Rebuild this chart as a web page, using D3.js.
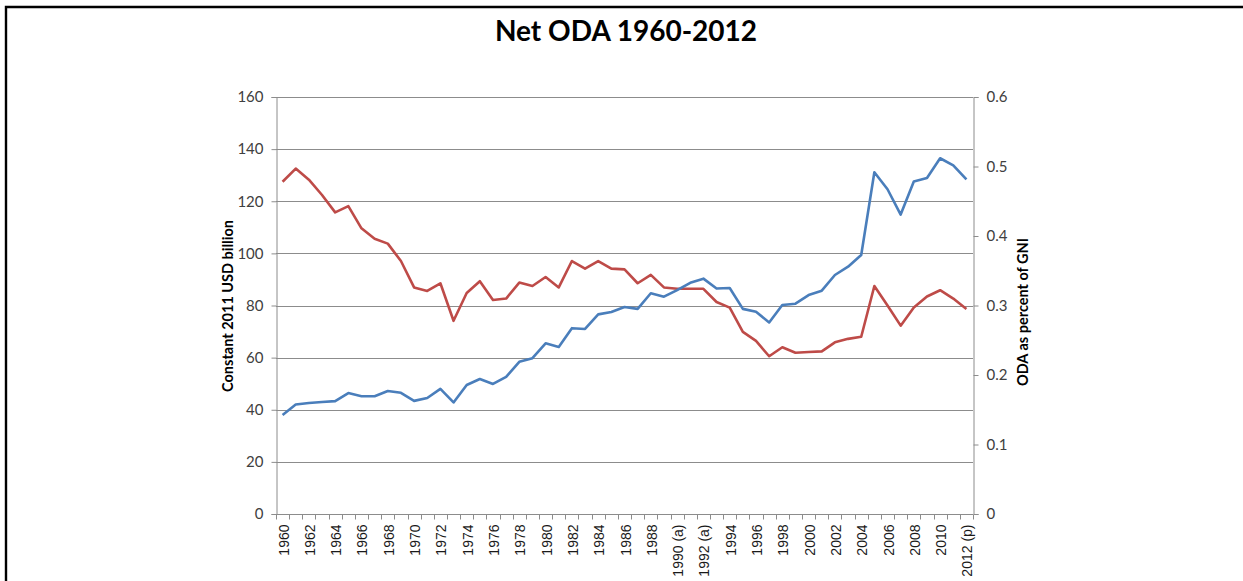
<!DOCTYPE html>
<html>
<head>
<meta charset="utf-8">
<script src="https://cdn.jsdelivr.net/npm/d3@7"></script>
<style>
  body { margin: 0; background: #fff; }
  svg { display: block; }
</style>
</head>
<body>
<svg id="chart" width="1243" height="581"></svg>
<script>
// categories (one per year), only every second one gets a label
const years = d3.range(1960, 2013).map(y => {
    if (y === 1990 || y === 1991 || y === 1992) return y + ' (a)';
    if (y === 2012) return y + ' (p)';
    return String(y);
});

// Net ODA, constant 2011 USD billion (left axis)
const odaUsd = [
    38, 42, 42.6, 43, 43.3, 46.4, 45.2, 45.2, 47.2, 46.5,
    43.4, 44.5, 48, 42.8, 49.5, 51.8, 49.9, 52.6, 58.4, 59.8,
    65.5, 64.1, 71.3, 71, 76.6, 77.5, 79.4, 78.7, 84.7, 83.4,
    85.9, 88.7, 90.3, 86.5, 86.7, 78.7, 77.6, 73.5, 80.2, 80.7,
    84, 85.7, 91.7, 94.9, 99.4, 131.1, 124.6, 114.9, 127.6, 128.9,
    136.5, 133.8, 128.4
];

// ODA as percent of GNI (right axis)
const odaGni = [
    0.478, 0.497, 0.481, 0.459, 0.434, 0.443, 0.411, 0.396, 0.389, 0.364,
    0.326, 0.321, 0.332, 0.278, 0.318, 0.335, 0.308, 0.310, 0.333, 0.328,
    0.341, 0.326, 0.364, 0.353, 0.364, 0.353, 0.352, 0.332, 0.344, 0.326,
    0.324, 0.324, 0.324, 0.305, 0.297, 0.262, 0.249, 0.227, 0.240, 0.232,
    0.233, 0.234, 0.247, 0.252, 0.255, 0.328, 0.300, 0.271, 0.297, 0.313,
    0.322, 0.310, 0.295
];

const leftTicks = [0, 20, 40, 60, 80, 100, 120, 140, 160];
const rightTicks = [0, 0.1, 0.2, 0.3, 0.4, 0.5, 0.6];

const svg = d3.select('#chart');

// outer frame (only top and left edges are in view)
svg.append('path')
    .attr('d', 'M6,581 V7 H1243')
    .attr('fill', 'none')
    .attr('stroke', '#000')
    .attr('stroke-width', 2.4);

svg.append('text')
    .attr('x', 626)
    .attr('y', 41)
    .attr('text-anchor', 'middle')
    .attr('font-family', 'Lato, "Open Sans", sans-serif')
    .attr('font-weight', 'bold')
    .attr('font-size', 28)
    .attr('fill', '#000')
    .text('Net ODA 1960-2012');

const plotL = 276, plotR = 973, plotT = 97, plotB = 514;

const x = d3.scaleBand().domain(years).range([plotL, plotR]);
const yL = d3.scaleLinear().domain([0, 160]).range([plotB, plotT]);
const yR = d3.scaleLinear().domain([0, 0.6]).range([plotB, plotT]);

// horizontal gridlines from the left axis
svg.append('g')
    .selectAll('line')
    .data(leftTicks.filter(d => d > 0))
    .join('line')
    .attr('x1', plotL)
    .attr('x2', plotR)
    .attr('y1', d => Math.round(yL(d)) + 0.5)
    .attr('y2', d => Math.round(yL(d)) + 0.5)
    .attr('stroke', '#8c8c8c')
    .attr('stroke-width', 1);

const tickFont = 'Lato, Carlito, "Open Sans", sans-serif';

// left axis
const gL = svg.append('g').attr('transform', `translate(${plotL + 0.5},0)`);
gL.call(d3.axisLeft(yL).tickValues(leftTicks).tickSize(5).tickPadding(8).tickFormat(d3.format('d')));
gL.select('.domain').attr('stroke', '#8c8c8c');
gL.selectAll('.tick line').attr('stroke', '#8c8c8c');
gL.selectAll('.tick text')
    .attr('font-family', tickFont)
    .attr('font-size', 15)
    .attr('fill', '#404040');

// right axis
const gR = svg.append('g').attr('transform', `translate(${plotR + 0.5},0)`);
gR.call(d3.axisRight(yR).tickValues(rightTicks).tickSize(5).tickPadding(8).tickFormat(d => d === 0 ? '0' : d3.format('.1f')(d)));
gR.select('.domain').attr('stroke', '#8c8c8c');
gR.selectAll('.tick line').attr('stroke', '#8c8c8c');
gR.selectAll('.tick text')
    .attr('font-family', tickFont)
    .attr('font-size', 15)
    .attr('fill', '#404040');

// bottom axis: ticks at category boundaries, labels every other year
const gX = svg.append('g').attr('transform', `translate(0,${plotB + 0.5})`);
gX.append('line')
    .attr('x1', plotL)
    .attr('x2', plotR)
    .attr('stroke', '#8c8c8c');
gX.selectAll('line.tk')
    .data(years.concat(['end']))
    .join('line')
    .attr('class', 'tk')
    .attr('x1', (d, i) => Math.round(plotL + i * x.bandwidth()) + 0.5)
    .attr('x2', (d, i) => Math.round(plotL + i * x.bandwidth()) + 0.5)
    .attr('y1', 0)
    .attr('y2', 5)
    .attr('stroke', '#8c8c8c');
gX.selectAll('text')
    .data(years.filter((d, i) => i % 2 === 0))
    .join('text')
    .attr('transform', d => `translate(${x(d) + x.bandwidth() / 2 + 6},10) rotate(-90)`)
    .attr('text-anchor', 'end')
    .attr('font-family', '"Liberation Sans", Arial, sans-serif')
    .attr('font-size', 14)
    .attr('fill', '#1a1a1a')
    .text(d => d);

// axis titles
svg.append('text')
    .attr('transform', 'translate(233,306) rotate(-90)')
    .attr('text-anchor', 'middle')
    .attr('font-family', tickFont)
    .attr('font-weight', 'bold')
    .attr('font-size', 14.5)
    .attr('fill', '#000')
    .text('Constant 2011 USD billion');

svg.append('text')
    .attr('transform', 'translate(1028,312) rotate(-90)')
    .attr('text-anchor', 'middle')
    .attr('font-family', tickFont)
    .attr('font-weight', 'bold')
    .attr('font-size', 14.5)
    .attr('fill', '#000')
    .text('ODA as percent of GNI');

const cx = d => x(d) + x.bandwidth() / 2;

svg.append('path')
    .datum(odaGni)
    .attr('fill', 'none')
    .attr('stroke', '#be4b48')
    .attr('stroke-width', 2.6)
    .attr('stroke-linejoin', 'round')
    .attr('d', d3.line().x((d, i) => cx(years[i])).y(d => yR(d)));

svg.append('path')
    .datum(odaUsd)
    .attr('fill', 'none')
    .attr('stroke', '#4a7ebb')
    .attr('stroke-width', 2.6)
    .attr('stroke-linejoin', 'round')
    .attr('d', d3.line().x((d, i) => cx(years[i])).y(d => yL(d)));
</script>
</body>
</html>
